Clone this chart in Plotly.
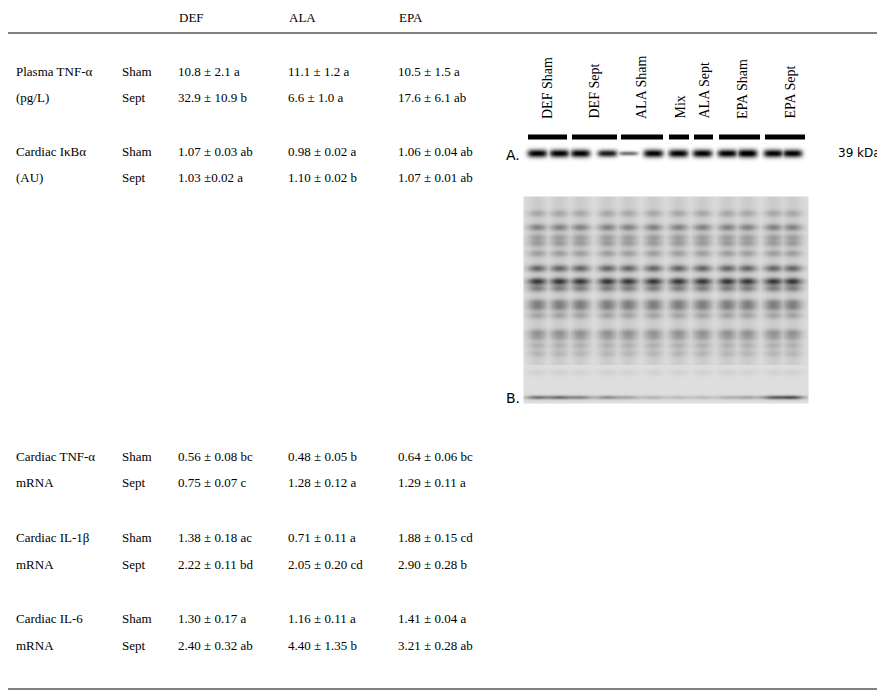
import numpy as np
import plotly.graph_objects as go

# table data
groups = ["DEF", "ALA", "EPA"]
row_labels = [("Plasma TNF-\u03b1", "(pg/L)"), ("Cardiac I\u03baB\u03b1", "(AU)"),
              ("Cardiac TNF-\u03b1", "mRNA"), ("Cardiac IL-1\u03b2", "mRNA"),
              ("Cardiac IL-6", "mRNA")]
conditions = ["Sham", "Sept"]
def_vals = ["10.8 \u00b1 2.1 a", "32.9 \u00b1 10.9 b", "1.07 \u00b1 0.03 ab", "1.03 \u00b10.02 a",
            "0.56 \u00b1 0.08 bc", "0.75 \u00b1 0.07 c", "1.38 \u00b1 0.18 ac", "2.22 \u00b1 0.11 bd",
            "1.30 \u00b1 0.17 a", "2.40 \u00b1 0.32 ab"]
ala_vals = ["11.1 \u00b1 1.2 a", "6.6 \u00b1 1.0 a", "0.98 \u00b1 0.02 a", "1.10 \u00b1 0.02 b",
            "0.48 \u00b1 0.05 b", "1.28 \u00b1 0.12 a", "0.71 \u00b1 0.11 a", "2.05 \u00b1 0.20 cd",
            "1.16 \u00b1 0.11 a", "4.40 \u00b1 1.35 b"]
epa_vals = ["10.5 \u00b1 1.5 a", "17.6 \u00b1 6.1 ab", "1.06 \u00b1 0.04 ab", "1.07 \u00b1 0.01 ab",
            "0.64 \u00b1 0.06 bc", "1.29 \u00b1 0.11 a", "1.88 \u00b1 0.15 cd", "2.90 \u00b1 0.28 b",
            "1.41 \u00b1 0.04 a", "3.21 \u00b1 0.28 ab"]

# blot data
lane_labels = ["DEF Sham", "DEF Sept", "ALA Sham", "Mix", "ALA Sept", "EPA Sham", "EPA Sept"]
lane_x = [537, 559, 580, 607, 628, 653, 678, 702, 727, 747, 773, 792]
ikb_band = [1.0, 1.0, 1.0, 0.9, 0.55, 1.0, 1.0, 1.0, 1.0, 1.05, 1.0, 1.0]
gel_band_y = [213, 227, 237, 243, 253, 268, 281, 288, 302, 307, 315, 332, 337, 345, 353, 372]
gel_band_int = [0.2, 0.4, 0.25, 0.25, 0.25, 0.55, 0.8, 0.4, 0.35, 0.35, 0.22, 0.28, 0.22, 0.15, 0.12, 0.07]
bottom_band = [0.55, 0.55, 0.45, 0.4, 0.28, 0.22, 0.18, 0.18, 0.22, 0.28, 0.6, 0.7]

FONT = "Liberation Serif"
OFF = 8  # page offset
fig = go.Figure()

xs = np.arange(524, 809)
lane_w = np.zeros_like(xs, dtype=float)
for cx in lane_x:
    lane_w = np.maximum(lane_w, np.exp(-((xs - cx) / 10.0) ** 2))

ys_a = np.arange(143, 164)
za = np.zeros((len(ys_a), len(xs)))
for cx, v in zip(lane_x, ikb_band):
    za = np.maximum(za, v * np.exp(-((ys_a[:, None] - 153) / (4.0 * v)) ** 2)
                    * np.exp(-((xs[None, :] - cx) / 10.0) ** 4))
fig.add_trace(go.Heatmap(x=xs, y=ys_a, z=za, zmin=0, zmax=1, showscale=False, hoverinfo="skip",
                         colorscale=[[0, "white"], [1, "black"]]))

ys_b = np.arange(197, 404)
zb = np.zeros((len(ys_b), len(xs)))
for by, bi in zip(gel_band_y, gel_band_int):
    zb += bi * np.exp(-((ys_b[:, None] - by) / 3.5) ** 2) * lane_w[None, :]
for cx, v in zip(lane_x, bottom_band):
    zb += v * np.exp(-((ys_b[:, None] - 397) / 2.0) ** 2) * np.exp(-((xs[None, :] - cx) / 12.0) ** 2)
zb += 0.1 * lane_w[None, :] * (ys_b[:, None] < 365)
fig.add_trace(go.Heatmap(x=xs, y=ys_b, z=np.clip(zb, 0, 1), zmin=0, zmax=1, showscale=False,
                         hoverinfo="skip",
                         colorscale=[[0, "rgb(222,222,222)"], [1, "rgb(35,35,35)"]]))

ann = []
def txt(x, y, s, size=13, font=FONT, angle=0, xa="left", ya="middle"):
    ann.append(dict(x=x, y=y, text=s, showarrow=False, xanchor=xa, yanchor=ya, textangle=angle,
                    font=dict(family=font, size=size, color="black")))

for g, x in zip(groups, [177, 287, 397]):
    txt(x, 17, g)
row_y = [71, 97, 151, 177, 456, 482, 537, 564, 618, 645]
for i, y in enumerate(row_y):
    if i % 2 == 0:
        txt(14, y, row_labels[i // 2][0])
    else:
        txt(14, y, row_labels[i // 2][1])
    txt(120, y, conditions[i % 2])
    txt(176, y, def_vals[i])
    txt(286, y, ala_vals[i])
    txt(396, y, epa_vals[i])

for s, x in zip(lane_labels, [547, 594, 641, 680, 704, 742, 790]):
    txt(x, 121, s, size=14, angle=-90, xa="center", ya="bottom")
txt(836, 153, "39 kDa", size=12, font="DejaVu Sans")
txt(504, 155, "A.", size=14, font="DejaVu Sans")
txt(504, 398, "B.", size=14, font="DejaVu Sans")

shapes = []
for y0 in [7, 33, 689]:
    shapes.append(dict(type="line", x0=5, x1=877, y0=y0, y1=y0, line=dict(color="black", width=1)))
for a, b in [(528, 567), (572, 617), (621, 663), (669, 689), (694, 713), (719, 760), (765, 805)]:
    shapes.append(dict(type="line", x0=a, x1=b, y0=137, y1=137, line=dict(color="black", width=5)))

fig.update_layout(width=885, height=699, margin=dict(l=0, r=0, t=0, b=0),
                  plot_bgcolor="white", paper_bgcolor="white",
                  xaxis=dict(range=[OFF, 885 + OFF], visible=False),
                  yaxis=dict(range=[699 + OFF, OFF], visible=False),
                  annotations=ann, shapes=shapes)
fig.write_html("out.html")
